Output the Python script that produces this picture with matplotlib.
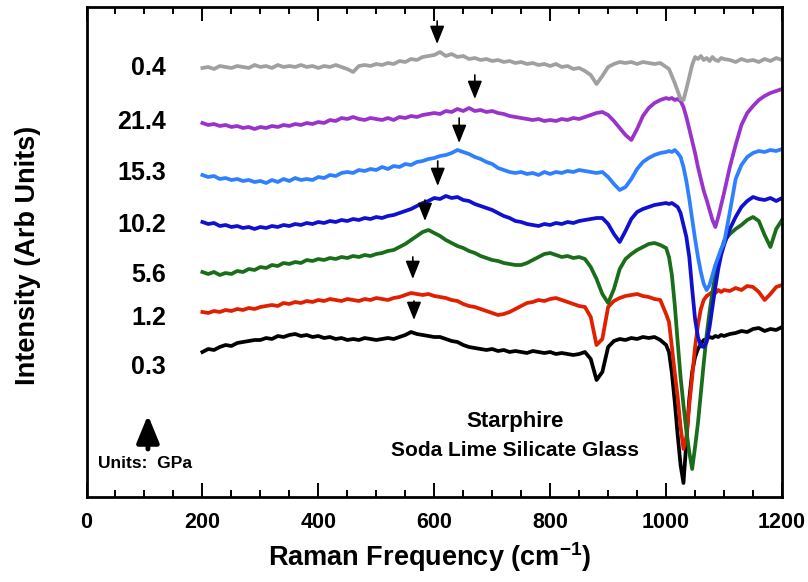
import matplotlib
matplotlib.use("Agg")
import matplotlib.pyplot as plt

plt.rcParams['font.family'] = ['Liberation Sans', 'DejaVu Sans']
plt.rcParams['font.weight'] = 'bold'
plt.rcParams['mathtext.fontset'] = 'custom'
plt.rcParams['mathtext.bf'] = 'Liberation Sans:bold'
plt.rcParams['mathtext.rm'] = 'Liberation Sans:bold'
plt.rcParams['mathtext.default'] = 'bf'

# Raman shift grid (cm^-1)
freq = list(range(200, 1000, 10)) + list(range(1000, 1101, 5)) + list(range(1110, 1201, 10))

pressures = ["0.3", "1.2", "5.6", "10.2", "15.3", "21.4", "0.4"]
colors = ["#000000", "#e02000", "#1a6e1a", "#1010d0", "#2f80ff", "#9933cc", "#a0a0a0"]

spec_0p3 = [145,148,147,150,152,151,154,155,156,157,
            157,159,158,161,160,162,163,161,162,160,
            161,159,160,158,159,157,158,157,159,158,
            157,158,159,158,160,162,165,163,162,161,
            160,160,158,156,155,152,150,149,148,147,
            148,146,147,145,146,145,144,146,145,144,
            145,143,144,143,142,143,145,138,117,125,
            150,156,158,157,159,158,160,159,160,157,
            152,145,124,95,62,32,14,55,98,125,140,148,153,157,158,160,159,161,160,162,161,
            163,164,166,165,168,169,166,168,167,170]

spec_1p2 = [185,184,186,185,187,186,188,187,189,188,
            190,191,192,191,194,193,195,194,196,195,
            197,196,198,197,196,198,197,196,198,197,
            199,198,197,199,200,202,204,203,202,203,
            201,200,199,197,196,193,191,190,188,186,
            184,182,183,185,188,191,194,195,197,196,
            198,199,197,195,193,191,190,180,152,158,
            190,196,199,201,202,203,201,200,198,197,
            183,175,150,124,100,70,48,60,92,120,150,172,188,197,201,203,205,204,207,205,207,
            206,209,207,211,210,205,197,203,210,212]

spec_5p6 = [225,223,225,222,224,223,226,225,228,227,
            230,229,232,231,234,233,235,234,237,236,
            238,237,239,238,240,239,241,240,242,241,
            243,244,246,247,250,253,257,261,265,267,
            264,261,257,254,251,249,246,244,241,239,
            237,236,234,233,232,232,234,237,240,243,
            244,242,240,241,239,240,238,230,218,203,
            194,208,228,238,243,247,250,253,254,252,
            249,240,222,192,155,120,92,66,45,28,50,74,104,134,162,185,205,222,234,246,256,
            263,268,272,277,280,276,262,250,268,277]

spec_10p2 = [275,273,274,271,272,270,271,269,270,268,
             270,269,271,270,272,271,273,272,274,273,
             275,274,276,275,277,276,278,277,279,278,
             280,279,281,282,284,286,288,291,294,296,
             299,298,301,299,300,297,296,293,291,289,
             287,284,281,279,276,275,273,272,271,273,
             272,274,273,275,274,276,277,278,279,279,
             273,263,255,266,278,285,288,290,292,293,
             294,293,294,292,290,284,272,260,240,208,178,160,151,150,155,170,190,210,228,242,252,
             268,280,290,296,300,298,297,299,296,299]

spec_15p3 = [322,320,321,318,319,317,318,316,317,315,
             316,314,317,315,318,316,319,317,318,317,
             320,319,322,321,324,325,324,327,326,328,
             327,330,328,331,330,333,332,335,336,338,
             339,341,342,344,347,345,343,340,338,335,
             333,329,327,325,324,325,323,324,322,325,
             323,325,324,326,325,327,326,325,324,325,
             320,313,307,310,318,328,335,339,342,344,
             345,346,345,347,344,340,330,316,298,278,258,240,225,213,207,212,222,232,240,248,254,
             285,318,332,340,344,346,345,347,346,348]

spec_21p4 = [374,372,373,371,372,370,371,369,370,368,
             370,369,371,370,372,371,373,372,374,373,
             375,374,377,376,379,378,380,378,377,379,
             378,377,379,377,380,379,381,380,382,383,
             384,383,386,385,388,386,389,386,387,385,
             386,384,383,381,380,379,378,377,378,376,
             377,376,378,377,379,378,380,382,384,385,
             382,376,369,362,357,368,381,389,394,397,
             399,398,399,397,398,396,390,380,368,356,344,330,318,306,297,287,277,270,280,292,304,
             330,352,372,384,391,397,401,404,406,408]

spec_0p4r = [429,430,428,431,430,429,431,430,429,432,
             430,431,429,432,430,431,430,432,430,431,
             429,431,430,432,430,428,425,431,432,431,
             433,432,434,433,436,435,438,437,440,441,
             442,445,441,443,440,441,438,439,437,438,
             436,437,435,436,434,435,433,434,432,433,
             431,433,430,431,428,429,426,422,413,421,
             430,433,435,434,435,433,435,434,433,434,
             430,428,421,414,406,398,397,408,420,432,440,438,441,437,439,436,440,437,436,439,438,
             437,435,438,436,437,435,438,436,439,437]

spectra = [spec_0p3, spec_1p2, spec_5p6, spec_10p2, spec_15p3, spec_21p4, spec_0p4r]

# label vertical positions (same units as spectra)
label_y = [130, 179, 222, 272, 324, 375, 429]
# peak-marker arrows: x position, top, tip
arrow_x = [565, 563, 584, 606, 643, 670, 605]
arrow_top = [196, 240, 297, 336, 379, 422, 476]
arrow_tip = [177, 218, 276, 311, 354, 398, 453]

fig = plt.figure(figsize=(8.08, 5.82), dpi=100)
ax = fig.add_axes([86.5/808, 85/582, (782-86.5)/808, 490/582])

for spec, col in zip(spectra, colors):
    ax.plot(freq, spec, color=col, lw=2.7, solid_joinstyle='round')

for p, y in zip(pressures, label_y):
    ax.text(137, y, p, ha='right', va='center', fontsize=18, fontweight='bold')

for x, y0, y1 in zip(arrow_x, arrow_top, arrow_tip):
    ax.annotate('', xy=(x, y1), xytext=(x, y0),
                arrowprops=dict(arrowstyle='-|>,head_length=1.0,head_width=0.4',
                                mutation_scale=11,
                                color='black', lw=1.2, shrinkA=0, shrinkB=0))

ax.annotate('', xy=(106, 82), xytext=(106, 48),
            arrowprops=dict(arrowstyle='-|>,head_length=1.1,head_width=0.45',
                            mutation_scale=15,
                            color='black', lw=3.5, shrinkA=0, shrinkB=0))
ax.text(20, 34, 'Units:  GPa', ha='left', va='center', fontsize=12.5, fontweight='bold')
ax.text(739, 75, 'Starphire', ha='center', va='center', fontsize=16, fontweight='bold')
ax.text(739, 47, 'Soda Lime Silicate Glass', ha='center', va='center', fontsize=15, fontweight='bold')

ax.set_xlim(0, 1200)
ax.set_ylim(0, 490)
ax.set_xticks(range(0, 1201, 200))
ax.set_xticks(range(0, 1201, 50), minor=True)
ax.set_yticks([])
ax.tick_params(axis='x', which='both', direction='in', top=True, bottom=True,
               labelsize=15.5, width=1.4, pad=11)
ax.tick_params(axis='x', which='major', length=10)
ax.tick_params(axis='x', which='minor', length=5)
for lab in ax.get_xticklabels():
    lab.set_fontweight('bold')
for s in ax.spines.values():
    s.set_linewidth(2.0)

fig.text(430/808, 1 - 557/582, 'Raman Frequency (cm$^{-1}$)', ha='center', va='center',
         fontsize=19.5, fontweight='bold')
fig.text(28/808, 1 - 255/582, 'Intensity (Arb Units)', ha='center', va='center',
         rotation=90, fontsize=19.5, fontweight='bold')

fig.savefig('out.png', dpi=100)
